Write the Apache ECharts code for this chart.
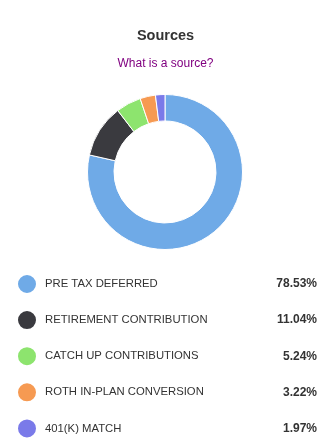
<!DOCTYPE html>
<html>
<head>
<meta charset="utf-8">
<script src="https://cdn.jsdelivr.net/npm/echarts@6/dist/echarts.min.js"></script>
<style>
  html, body { margin: 0; padding: 0; background: #fff; }
  #chart { width: 331px; height: 445px; }
</style>
</head>
<body>
<div id="chart"></div>
<script>
// Contribution sources and their share of the balance (%)
const sourceNames = [
  'PRE TAX DEFERRED',
  'RETIREMENT CONTRIBUTION',
  'CATCH UP CONTRIBUTIONS',
  'ROTH IN-PLAN CONVERSION',
  '401(K) MATCH'
];
const sourcePercents = [78.53, 11.04, 5.24, 3.22, 1.97];
const sourceColors = ['#6faae7', '#3a3a3f', '#8de46e', '#f69a52', '#7a7ae9'];

const pieData = sourceNames.map((name, i) => ({
  name: name,
  value: sourcePercents[i],
  itemStyle: { color: sourceColors[i] }
}));
const percentByName = {};
sourceNames.forEach((n, i) => { percentByName[n] = sourcePercents[i].toFixed(2) + '%'; });

const chart = echarts.init(document.getElementById('chart'), null, { renderer: 'canvas' });
chart.setOption({
  animation: false,
  title: [
    {
      text: 'Sources',
      left: 'center',
      top: 23,
      textStyle: { fontFamily: 'Liberation Sans, Arial, sans-serif', fontSize: 14.5, fontWeight: 'bold', color: '#333' }
    },
    {
      text: 'What is a source?',
      left: 'center',
      top: 53,
      textStyle: { fontFamily: 'Liberation Sans, Arial, sans-serif', fontSize: 12, fontWeight: 'normal', color: '#800080' }
    }
  ],
  legend: {
    orient: 'vertical',
    left: 16,
    top: 273,
    width: 312,
    height: 200,
    padding: 0,
    icon: 'circle',
    itemWidth: 20,
    itemHeight: 20,
    itemGap: 14.1,
    selectedMode: false,
    data: sourceNames,
    formatter: name => '{n|' + name + '}{v|' + percentByName[name] + '}',
    textStyle: {
      padding: 0,
      rich: {
        n: { fontFamily: 'Liberation Sans, Arial, sans-serif', fontSize: 11.3, color: '#333', width: 222, padding: [0, 0, 0, 3], height: 18, lineHeight: 18 },
        v: { fontFamily: 'Liberation Sans, Arial, sans-serif', fontSize: 12, fontWeight: 'bold', color: '#333', width: 50, align: 'right', height: 18, lineHeight: 18 }
      }
    }
  },
  series: [{
    type: 'pie',
    center: [165, 172],
    radius: [51, 77.5],
    startAngle: 90,
    clockwise: true,
    label: { show: false },
    labelLine: { show: false },
    emphasis: { disabled: true },
    silent: true,
    itemStyle: { borderColor: '#fff', borderWidth: 1 },
    data: pieData
  }]
});
</script>
</body>
</html>
